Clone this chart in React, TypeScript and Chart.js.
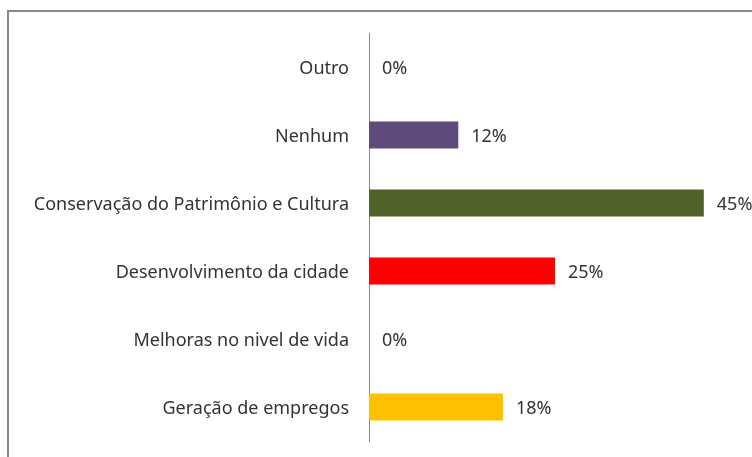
import React, { useEffect, useRef } from "react";
import { Chart, registerables } from "chart.js";

Chart.register(...registerables);

const categories = [
  "Outro",
  "Nenhum",
  "Conservação do Patrimônio e Cultura",
  "Desenvolvimento da cidade",
  "Melhoras no nivel de vida",
  "Geração de empregos",
];
const values = [0, 12, 45, 25, 0, 18];
const colors = ["#604A7B", "#604A7B", "#4F6228", "#FF0000", "#FFC000", "#FFC000"];

const FONT = "'Noto Sans', sans-serif";

const framePlugin = {
  id: "frame",
  beforeDraw(chart: any) {
    const ctx = chart.ctx;
    ctx.save();
    ctx.fillStyle = "#ffffff";
    ctx.fillRect(0, 0, chart.width, chart.height);
    ctx.strokeStyle = "#888888";
    ctx.lineWidth = 2;
    ctx.strokeRect(8, 11, chart.width + 20, chart.height + 20);
    ctx.restore();
  },
};

const labelPlugin = {
  id: "valueLabels",
  afterDatasetsDraw(chart: any) {
    const ctx = chart.ctx;
    const meta = chart.getDatasetMeta(0);
    ctx.save();
    ctx.font = `18px ${FONT}`;
    ctx.fillStyle = "#333333";
    ctx.textAlign = "left";
    ctx.textBaseline = "middle";
    meta.data.forEach((bar: any, i: number) => {
      ctx.fillText(`${values[i]}%`, bar.x + 13, bar.y + 2);
    });
    ctx.restore();
  },
};

export default function App() {
  const ref = useRef<HTMLCanvasElement>(null);
  useEffect(() => {
    if (!ref.current) return;
    const chart = new Chart(ref.current, {
      type: "bar",
      data: {
        labels: categories,
        datasets: [
          {
            data: values,
            backgroundColor: colors,
            borderWidth: 0,
            categoryPercentage: 0.4,
            barPercentage: 1,
          },
        ],
      },
      options: {
        indexAxis: "y",
        animation: false,
        responsive: false,
        layout: { padding: { top: 33, bottom: 16, left: 0, right: 11 } },
        plugins: { legend: { display: false }, tooltip: { enabled: false } },
        scales: {
          x: { display: false, min: 0, max: 50 },
          y: {
            afterFit(scale: any) {
              scale.width = 369;
              scale.paddingTop = 0;
              scale.paddingBottom = 0;
            },
            grid: { display: false, drawTicks: false },
            border: { display: true, color: "#868686", width: 1 },
            ticks: {
              padding: 20,
              labelOffset: 2,
              color: "#333333",
              font: { family: FONT, size: 18 },
            },
          },
        },
      },
      plugins: [framePlugin, labelPlugin],
    });
    return () => chart.destroy();
  }, []);
  return (
    <div style={{ position: "fixed", left: 0, top: 0, width: 752, height: 457 }}>
      <canvas ref={ref} width={752} height={457} style={{ width: 752, height: 457 }} />
    </div>
  );
}
